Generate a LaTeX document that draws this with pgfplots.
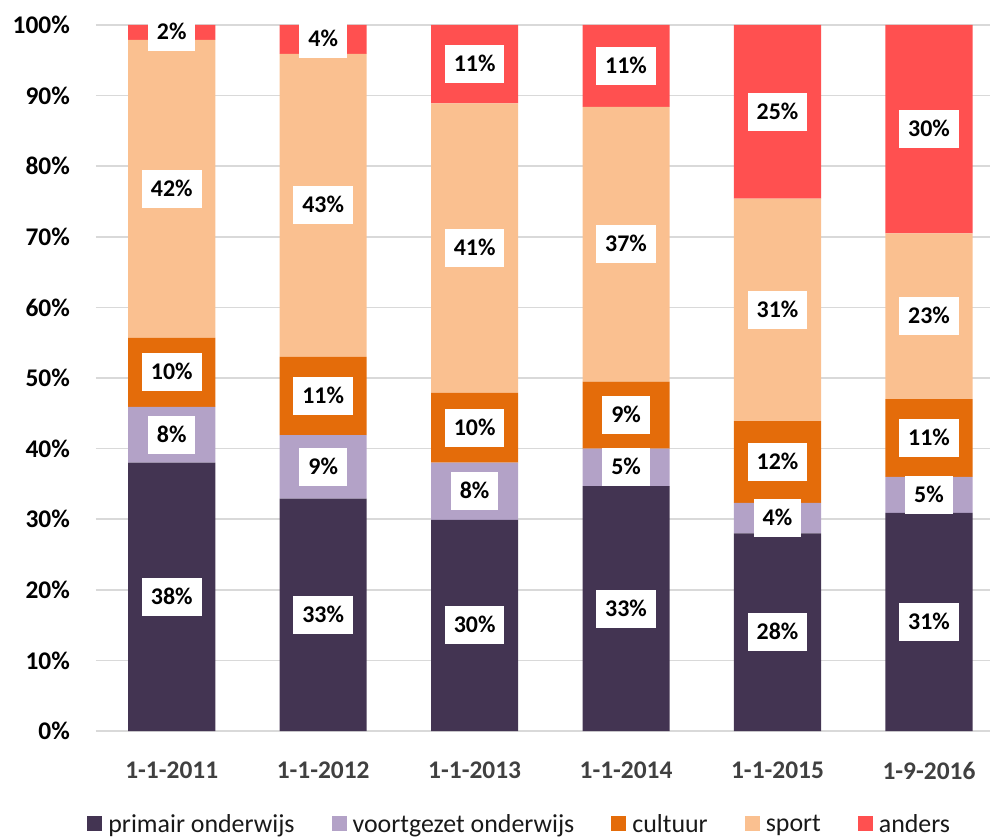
\documentclass[border=0pt]{standalone}
\usepackage{pgfplots}
\pgfplotsset{compat=1.18}
\usepackage{pgfplotstable}
\usepackage{fontspec}
\setmainfont{Carlito}
\usetikzlibrary{calc}

\definecolor{prim}{HTML}{433452}
\definecolor{voort}{HTML}{B3A2C7}
\definecolor{cult}{HTML}{E46C0A}
\definecolor{sport}{HTML}{FAC090}
\definecolor{anders}{HTML}{FF5050}
\definecolor{gridgray}{HTML}{D9D9D9}
\definecolor{ticktxt}{HTML}{404040}

% segment heights (100% stacked) and the printed labels
\pgfplotstableread{
x p    pl v   vl c    cl s    sl a    al
0 38.0 38 7.9 8  9.8  10 42.2 42 2.1  2
1 32.9 33 9.0 9  11.1 11 42.9 43 4.1  4
2 29.9 30 8.1 8  9.9  10 41.0 41 11.1 11
3 34.7 33 5.3 5  9.5  9  38.9 37 11.6 11
4 28.0 28 4.3 4  11.6 12 31.5 31 24.6 25
5 30.9 31 5.1 5  11.0 11 23.5 23 29.5 30
}\data

\pgfplotsset{
  seg/.style={fill=#1, draw=none,
    legend image code/.code={\fill[##1] (0bp,-7.5bp) rectangle (15bp,7.5bp);
      \path (19bp,0bp);}},
}

\begin{document}
\begin{tikzpicture}
\begin{axis}[
  name=ax,
  scale only axis, width=894bp, height=706bp,
  ybar stacked, bar width=0.575,
  xmin=-0.5, xmax=5.403, ymin=0, ymax=100,
  xtick={0,...,5},
  xticklabels={1-1-2011,1-1-2012,1-1-2013,1-1-2014,1-1-2015,1-9-2016},
  ytick={0,10,...,100},
  yticklabels={0\%,10\%,20\%,30\%,40\%,50\%,60\%,70\%,80\%,90\%,100\%},
  axis line style={draw=none},
  major tick length=0pt,
  ymajorgrids, grid style={gridgray, line width=1.5bp},
  tick label style={font=\fontsize{25.5}{30}\selectfont\bfseries},
  xticklabel style={text=ticktxt, inner sep=0pt, anchor=north, yshift=-31bp},
  yticklabel style={text=black, inner sep=0pt, anchor=east, xshift=-26bp},
  clip=false,
  point meta=explicit symbolic,
  nodes near coords={\pgfplotspointmeta\%},
  every node near coord/.append style={font=\fontsize{24}{28}\selectfont\bfseries,
    fill=white, text=black, inner xsep=9bp, inner ysep=11.5bp,
    text height=15bp, text depth=0bp, anchor=center},
  legend columns=5,
  legend style={draw=none, fill=none, at={(0.474,-0.1317)}, anchor=center,
    font=\fontsize{26}{30}\selectfont, text=black!90,
    /tikz/every even column/.append style={column sep=35bp}},
]
\addplot[seg=prim]    table[x=x, y=p, meta=pl] {\data};
\addplot[seg=voort]   table[x=x, y=v, meta=vl] {\data};
\addplot[seg=cult]    table[x=x, y=c, meta=cl] {\data};
\addplot[seg=sport]   table[x=x, y=s, meta=sl] {\data};
\addplot[seg=anders]  table[x=x, y=a, meta=al] {\data};
\legend{primair onderwijs, voortgezet onderwijs, cultuur, sport, anders}
\end{axis}
\pgfresetboundingbox
\path[use as bounding box] ($(ax.south west)+(-96bp,-106bp)$) rectangle ($(ax.north east)+(0bp,25bp)$);
\end{tikzpicture}
\end{document}
